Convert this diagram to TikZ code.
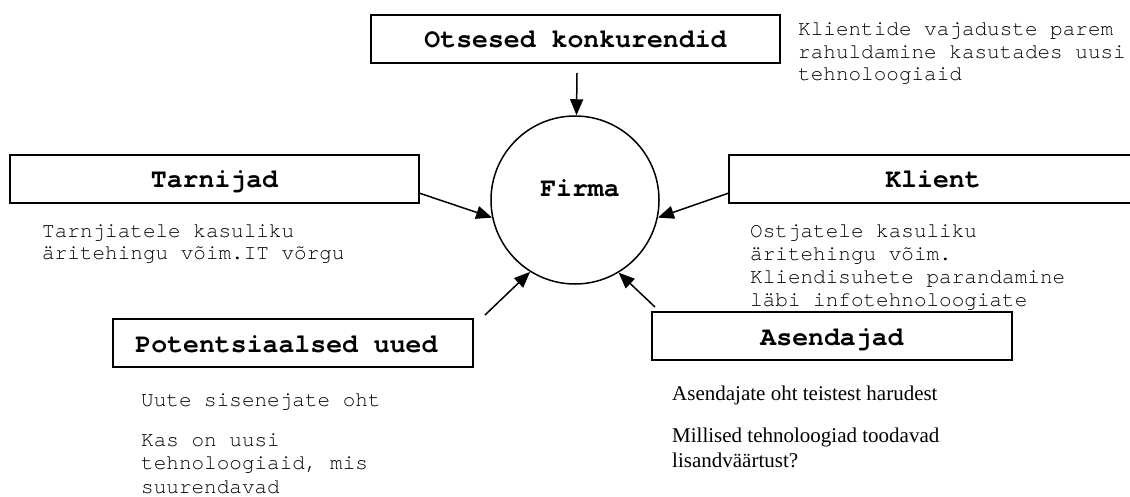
\documentclass[tikz,border=0pt]{standalone}
\usepackage{fontspec}
\setmainfont{Liberation Serif}
\newfontfamily\monofam{TeX Gyre Cursor}
\usetikzlibrary{arrows.meta}
\tikzset{
  hbox/.style={draw, fill=white, line width=1.5pt, inner sep=0pt, minimum height=48pt,
    text height=18pt, text depth=0pt,
    font=\monofam\bfseries\fontsize{26.5}{30}\selectfont},
  ring/.style={draw, circle, line width=1.5pt, minimum size=168pt, inner sep=0pt},
  htext/.style={inner sep=0pt, font=\monofam\bfseries\fontsize{26.5}{30}\selectfont},
  body/.style={inner sep=0pt, anchor=base west, font=\monofam\fontsize{21}{23}\selectfont},
  serif/.style={inner sep=0pt, anchor=base west, font=\fontsize{21}{25}\selectfont},
  conn/.style={line width=1.5pt, -{Triangle[length=16pt,width=13pt]}}
}
\begin{document}
\begin{tikzpicture}[x=1pt,y=-1pt]
\useasboundingbox (0,0) rectangle (1130,497);
\clip (0,0) rectangle (1130,497);
% circle
\node[ring] (firma) at (575,200) {};
\node[htext, anchor=base] (firmalabel) at (580,197) {Firma};
% text blocks
\node[body] (otstext) at (798,36) {\vtop{\baselineskip=22.5pt\hbox{Klientide vajaduste parem}\hbox{rahuldamine kasutades uusi}\hbox{tehnoloogiaid}}};
\node[body] (tarntext) at (42,237) {\vtop{\baselineskip=23pt\hbox{Tarnjiatele kasuliku}\hbox{äritehingu võim.IT võrgu}}};
\node[body] (klienttext) at (750,237) {\vtop{\baselineskip=23.3pt\hbox{Ostjatele kasuliku}\hbox{äritehingu võim.}\hbox{Kliendisuhete parandamine}\hbox{läbi infotehnoloogiate}}};
\node[body] (pottext1) at (141,406) {Uute sisenejate oht};
\node[body] (pottext2) at (141,446) {\vtop{\baselineskip=23.5pt\hbox{Kas on uusi}\hbox{tehnoloogiaid, mis}\hbox{suurendavad}}};
\node[serif] (asetext1) at (672,400) {Asendajate oht teistest harudest};
\node[serif] (asetext2) at (672,442) {\vtop{\baselineskip=25pt\hbox{Millised tehnoloogiad toodavad}\hbox{lisandväärtust?}}};
% boxes
\node[hbox, minimum width=409pt] (otsesed) at (575.5,39) {Otsesed konkurendid};
\node[hbox, minimum width=409pt] (tarnijad) at (214.5,179) {Tarnijad};
\node[hbox, minimum width=408pt] (klient) at (933,179) {Klient};
\node[hbox, minimum width=360pt] (asendajad) at (832,336) {Asendajad};
\node[hbox, minimum width=360pt] (potents) at (293,343) {\hspace*{-13pt}Potentsiaalsed uued};
% arrow tails
\coordinate (tOts) at (577,73);
\coordinate (tTarn) at (419,193);
\coordinate (tKlient) at (729,193);
\coordinate (tAsend) at (655,307);
\coordinate (tPot) at (485,315);
% connectors
\draw[conn] (tOts) -- (firma.89);
\draw[conn] (tTarn) -- (firma.192);
\draw[conn] (tKlient) -- (firma.348.6);
\draw[conn] (tAsend) -- (firma.301.7);
\draw[conn] (tPot) -- (firma.238.4);
\end{tikzpicture}
\end{document}
